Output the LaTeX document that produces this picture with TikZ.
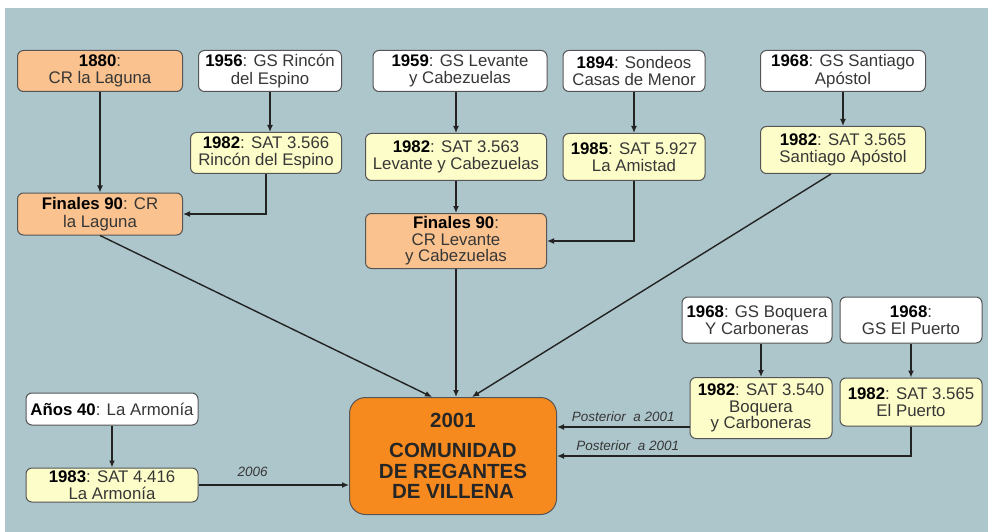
\documentclass[tikz,border=0pt]{standalone}
\usepackage{fontspec}
\setmainfont{Liberation Sans}
\usetikzlibrary{arrows.meta}
\definecolor{fondo}{RGB}{173,198,204}
\definecolor{naranja}{RGB}{249,194,142}
\definecolor{amarillo}{RGB}{253,253,201}
\definecolor{fuerte}{RGB}{247,138,30}
\definecolor{borde}{RGB}{85,85,85}
\definecolor{texto}{RGB}{55,55,55}
\definecolor{linea}{RGB}{35,35,35}
\newcommand{\anyo}[1]{\textbf{\color{black}#1}}

\begin{document}
\begin{tikzpicture}[x=1pt,y=-1pt,
  caja/.style={draw=borde,line width=1pt,rounded corners=6pt,align=center,inner sep=2pt,
    text=texto,font=\fontsize{16.8}{17.5}\selectfont},
  gs/.style={caja,fill=white},
  sat/.style={caja,fill=amarillo},
  cr/.style={caja,fill=naranja},
  apretado/.style={font=\fontsize{16.8}{16.5}\selectfont},
  flecha/.style={draw=linea,line width=1.4pt,-{Latex[length=7pt,width=6pt]}},
  nota/.style={font=\fontsize{13.5}{15}\selectfont\itshape,text=texto}]
  \useasboundingbox (0,0) rectangle (991,532);
  \fill[fondo] (5,8) rectangle (988,532);

  \node[cr,minimum width=165,minimum height=41] (laguna80) at (100,71) {\anyo{1880}:\\CR la Laguna};
  \node[gs,minimum width=143,minimum height=41] (rincon56) at (270,71) {\anyo{1956}: GS Rincón\\del Espino};
  \node[sat,minimum width=151,minimum height=41] (rincon82) at (266,153) {\anyo{1982}: SAT 3.566\\Rincón del Espino};
  \node[cr,minimum width=165,minimum height=42] (laguna90) at (100,214) {\anyo{Finales 90}: CR\\la Laguna};
  \node[gs,minimum width=174,minimum height=41] (levante59) at (460,71) {\anyo{1959}: GS Levante\\y Cabezuelas};
  \node[gs,minimum width=142,minimum height=41] (casas94) at (634,71) {\anyo{1894}: Sondeos\\Casas de Menor};
  \node[sat,minimum width=181,minimum height=47] (levante82) at (456,157) {\anyo{1982}: SAT 3.563\\Levante y Cabezuelas};
  \node[sat,minimum width=142,minimum height=47] (amistad85) at (634,157) {\anyo{1985}: SAT 5.927\\La Amistad};
  \node[cr,apretado,minimum width=181,minimum height=55] (levante90) at (456,241) {\anyo{Finales 90}:\\CR Levante\\y Cabezuelas};
  \node[gs,minimum width=165,minimum height=41] (santiago68) at (843,71) {\anyo{1968}: GS Santiago\\Apóstol};
  \node[sat,minimum width=165,minimum height=47] (santiago82) at (843,150) {\anyo{1982}: SAT 3.565\\Santiago Apóstol};
  \node[gs,minimum width=150,minimum height=46] (boquera68) at (757,320) {\anyo{1968}: GS Boquera\\Y Carboneras};
  \node[gs,minimum width=142,minimum height=46] (puerto68) at (911,320) {\anyo{1968}:\\GS El Puerto};
  \node[sat,apretado,minimum width=142,minimum height=61] (boquera82) at (761,408) {\anyo{1982}: SAT 3.540\\Boquera\\y Carboneras};
  \node[sat,minimum width=142,minimum height=48] (puerto82) at (911,402) {\anyo{1982}: SAT 3.565\\El Puerto};
  \node[gs,minimum width=172,minimum height=32] (armonia40) at (112,409) {\anyo{Años 40}: La Armonía};
  \node[sat,minimum width=172,minimum height=34] (armonia83) at (112,485) {\anyo{1983}: SAT 4.416\\La Armonía};
  \node[caja,fill=fuerte,rounded corners=16pt,text=black!85,minimum width=207,minimum height=117,
    font=\fontsize{20.5}{20.5}\selectfont\bfseries] (villena) at (453,456)
    {2001\\[10pt]COMUNIDAD\\DE REGANTES\\DE VILLENA};

  \draw[flecha] (laguna80) -- (laguna90);
  \draw[flecha] (rincon56.south) -- (rincon56.south |- rincon82.north);
  \draw[flecha] (rincon82.south) |- (laguna90.east);
  \draw[flecha] (levante82.north |- levante59.south) -- (levante82.north);
  \draw[flecha] (casas94) -- (amistad85);
  \draw[flecha] (levante82) -- (levante90);
  \draw[flecha] (amistad85.south) |- (levante90.east);
  \draw[flecha] (santiago68) -- (santiago82);
  \draw[flecha] (boquera82.north |- boquera68.south) -- (boquera82.north);
  \draw[flecha] (puerto68) -- (puerto82);
  \draw[flecha] (armonia40) -- (armonia83);
  \draw[flecha] (laguna90.south) -- ([xshift=-21]villena.north);
  \draw[flecha] (levante90.south) -- (levante90.south |- villena.north);
  \draw[flecha] ([xshift=-12]santiago82.south) -- ([xshift=19]villena.north);
  \draw[flecha] (boquera82.west |- 0,427) -- node[nota,above=1pt] {Posterior\ \ a 2001} (villena.east |- 0,427);
  \draw[flecha] (puerto82.south) |- node[nota,above=1pt,pos=0.9] {Posterior\ \ a 2001} (villena.east);
  \draw[flecha] (armonia83.east) -- node[nota,above=4pt,pos=0.36] {2006} (villena.west |- armonia83.east);
\end{tikzpicture}
\end{document}
